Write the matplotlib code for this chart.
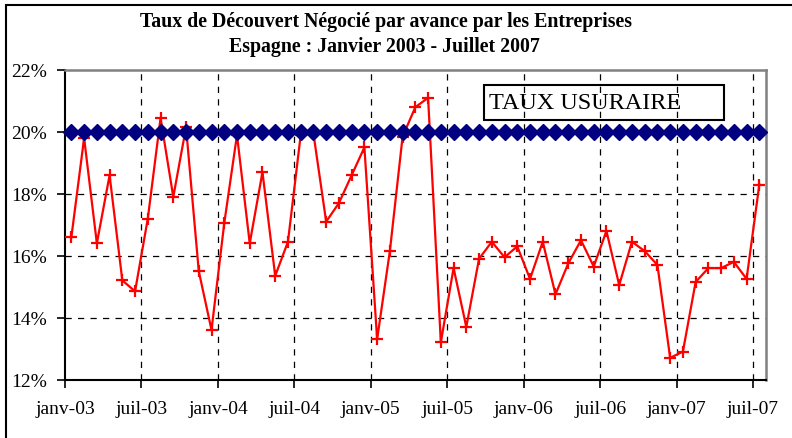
import matplotlib
matplotlib.use('Agg')
import matplotlib.pyplot as plt
from matplotlib.patches import Rectangle
from matplotlib.ticker import FixedLocator, FuncFormatter

# donnees : janv-03 -> juil-07 (55 mois)
mois = ['janv-03', 'févr-03', 'mars-03', 'avr-03', 'mai-03', 'juin-03',
        'juil-03', 'août-03', 'sept-03', 'oct-03', 'nov-03', 'déc-03',
        'janv-04', 'févr-04', 'mars-04', 'avr-04', 'mai-04', 'juin-04',
        'juil-04', 'août-04', 'sept-04', 'oct-04', 'nov-04', 'déc-04',
        'janv-05', 'févr-05', 'mars-05', 'avr-05', 'mai-05', 'juin-05',
        'juil-05', 'août-05', 'sept-05', 'oct-05', 'nov-05', 'déc-05',
        'janv-06', 'févr-06', 'mars-06', 'avr-06', 'mai-06', 'juin-06',
        'juil-06', 'août-06', 'sept-06', 'oct-06', 'nov-06', 'déc-06',
        'janv-07', 'févr-07', 'mars-07', 'avr-07', 'mai-07', 'juin-07',
        'juil-07']

taux_decouvert = [16.6, 19.8, 16.4, 18.6, 15.2, 14.85, 17.2, 20.45, 17.9, 20.15,
                  15.5, 13.6, 17.05, 19.9, 16.4, 18.7, 15.35, 16.45, 19.9, 19.95,
                  17.1, 17.7, 18.6, 19.5, 13.3, 16.15, 19.85, 20.8, 21.1, 13.2,
                  15.6, 13.7, 15.9, 16.45, 15.95, 16.3, 15.25, 16.45, 14.75, 15.75,
                  16.5, 15.65, 16.8, 15.05, 16.45, 16.15, 15.7, 12.7, 12.9, 15.15,
                  15.6, 15.6, 15.8, 15.25, 18.3]

taux_usuraire = [20.0] * 55

y_ticks = [12, 14, 16, 18, 20, 22]
x_ticks = [0, 6, 12, 18, 24, 30, 36, 42, 48, 54]

plt.rcParams['font.family'] = ['Liberation Serif', 'DejaVu Serif']

fig = plt.figure(figsize=(7.92, 4.39), dpi=100)
ax = fig.add_axes([65/792, 1-380.5/439, 700.7/792, 309.5/439])

x = [i + 0.5 for i in range(len(mois))]

# serie rouge
ax.plot(x, taux_decouvert, color='#FF0000', lw=1.6, marker='+', ms=8,
        mew=1.6, zorder=3, clip_on=False)
# taux usuraire
ax.plot(x, taux_usuraire, color='#000080', lw=1.5, marker='D', ms=8.5,
        mec='#000080', mfc='#000080', zorder=4, clip_on=False)

ax.set_xlim(0, len(mois))
ax.set_ylim(12, 22)
ax.xaxis.set_major_locator(FixedLocator(x_ticks))
ax.set_xticklabels([mois[i] for i in x_ticks])
ax.set_yticks(y_ticks)
ax.yaxis.set_major_formatter(FuncFormatter(lambda v, p: '%d%%' % v))
ax.tick_params(axis='both', labelsize=14, direction='out', length=6,
               width=1.2, colors='black')
ax.tick_params(axis='x', pad=9)
ax.tick_params(axis='y', pad=7)

# grille pointillee
for v in y_ticks[1:-1]:
    ax.axhline(v, color='black', lw=0.9, ls=(0, (5, 5)), zorder=1)
for v in x_ticks[1:]:
    ax.axvline(v, color='black', lw=0.9, ls=(0, (5, 5)), zorder=1)

for s in ['left', 'bottom']:
    ax.spines[s].set_color('black')
    ax.spines[s].set_linewidth(1.5)
for s in ['top', 'right']:
    ax.spines[s].set_color('#808080')
    ax.spines[s].set_linewidth(1.8)

# titre
fig.text(386/792, 1-27.5/439, 'Taux de Découvert Négocié par avance par les Entreprises',
         ha='center', va='baseline', fontsize=14.3, fontweight='bold')
fig.text(384/792, 1-51.7/439, 'Espagne : Janvier 2003 - Juillet 2007',
         ha='center', va='baseline', fontsize=14.3, fontweight='bold')

# encadre TAUX USURAIRE
fig.patches.append(Rectangle((484/792, 1-121/439), 240/792, 35/439,
                             transform=fig.transFigure, fill=False,
                             ec='black', lw=1.5))
fig.text(489/792, 1-103.5/439, 'TAUX USURAIRE', ha='left', va='center',
         fontsize=17.5)

# cadre exterieur
fig.patches.append(Rectangle((6/792, -0.2), 1.2, 1.2 - 6/439,
                             transform=fig.transFigure, fill=False,
                             ec='black', lw=1.5))

fig.savefig('out.png', dpi=100)
